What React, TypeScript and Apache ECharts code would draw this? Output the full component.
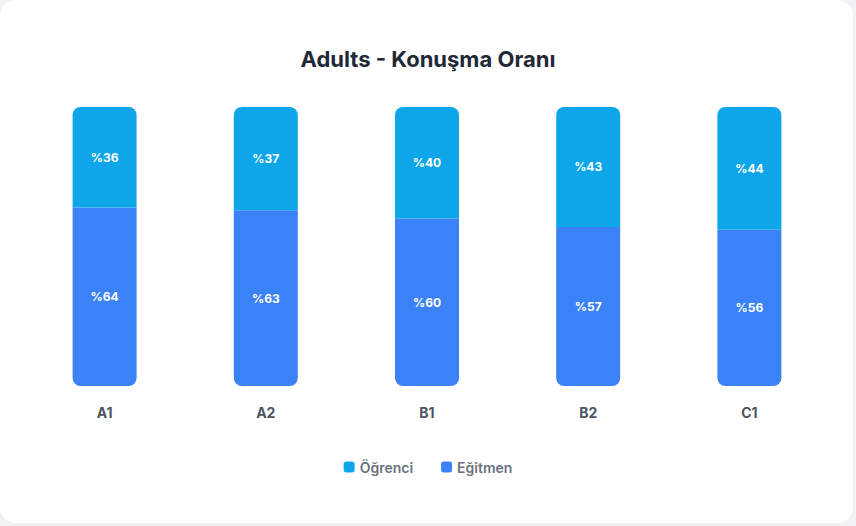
import * as echarts from "echarts";
import { useEffect, useRef } from "react";

const levels = ["A1", "A2", "B1", "B2", "C1"];
const trainerShare = [64, 63, 60, 57, 56];
const studentShare = [36, 37, 40, 43, 44];

const FONT = "Inter, 'Noto Sans', sans-serif";

export default function App() {
  const ref = useRef<HTMLDivElement | null>(null);

  useEffect(() => {
    document.body.style.margin = "0";
    if (!ref.current) return;
    const chart = echarts.init(ref.current, undefined, { renderer: "svg" });
    const label = {
      show: true,
      position: "inside",
      color: "#ffffff",
      fontWeight: "bold",
      fontSize: 12,
      fontFamily: FONT,
      formatter: (p: { value: number }) => `%${p.value}`
    };
    chart.setOption({
      animation: false,
      textStyle: { fontFamily: FONT },
      title: {
        text: "Adults - Konuşma Oranı",
        left: "center",
        top: 43,
        textStyle: { fontSize: 22, fontWeight: "bold", color: "#1f2937", fontFamily: FONT }
      },
      legend: {
        bottom: 47,
        left: "center",
        itemWidth: 11,
        itemHeight: 11,
        itemGap: 28,
        icon: "roundRect",
        textStyle: { fontSize: 14, fontWeight: 600, color: "#6b7280", fontFamily: FONT },
        data: ["Öğrenci", "Eğitmen"]
      },
      grid: { left: 24, right: 26, top: 107, bottom: 140 },
      xAxis: {
        type: "category",
        data: levels,
        axisLine: { show: false },
        axisTick: { show: false },
        axisLabel: { margin: 19, fontSize: 14, fontWeight: "bold", color: "#4b5563", fontFamily: FONT }
      },
      yAxis: { type: "value", min: 0, max: 100, show: false, splitLine: { show: false } },
      series: [
        {
          name: "Eğitmen",
          type: "bar",
          stack: "total",
          barWidth: 64,
          data: trainerShare,
          itemStyle: { color: "#3b82f6", borderRadius: [0, 0, 8, 8] },
          label
        },
        {
          name: "Öğrenci",
          type: "bar",
          stack: "total",
          barWidth: 64,
          data: studentShare,
          itemStyle: { color: "#0ea5e9", borderRadius: [8, 8, 0, 0] },
          label
        }
      ]
    });
    return () => chart.dispose();
  }, []);

  return (
    <div style={{ position: "fixed", left: 0, top: 0, width: 856, height: 526, background: "#f1f2f4" }}>
      <div style={{ position: "absolute", left: 0, top: 0, width: 853, height: 523, background: "#ffffff", borderRadius: 16 }} />
      <div ref={ref} style={{ position: "absolute", left: 0, top: 0, width: 856, height: 526 }} />
    </div>
  );
}
